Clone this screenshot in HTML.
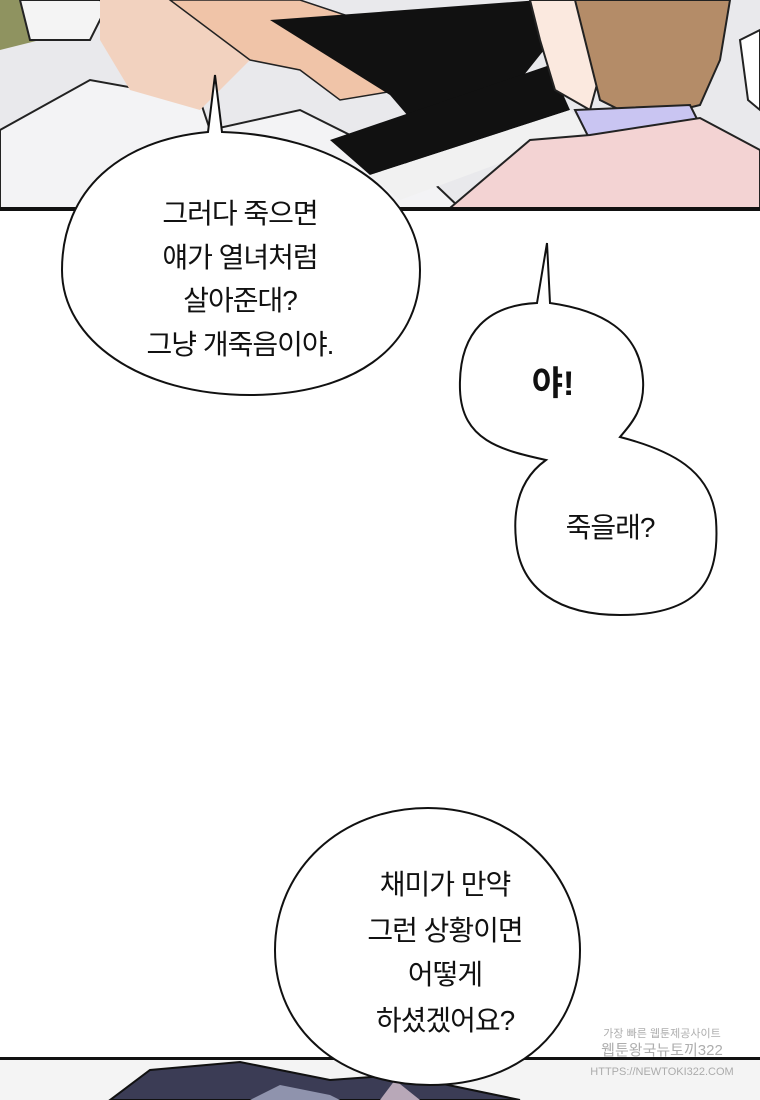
<!DOCTYPE html>
<html><head><meta charset="utf-8"><style>
html,body{margin:0;padding:0;background:#fff;}
svg{display:block}
text{font-family:"Liberation Sans","Noto Sans CJK KR",sans-serif;fill:#111}
</style></head><body>
<svg width="760" height="1100" viewBox="0 0 760 1100" xmlns="http://www.w3.org/2000/svg">
<!-- top panel -->
<rect x="0" y="0" width="760" height="208" fill="#e9e9ec"/>
<polygon points="0,0 60,0 40,40 0,50" fill="#8f9360"/>
<polygon points="20,0 110,0 90,40 30,40" fill="#f4f4f4" stroke="#222" stroke-width="2"/>
<polygon points="100,0 220,0 200,20 120,22" fill="#4a4660" stroke="#111" stroke-width="2"/>
<polygon points="0,130 90,80 200,100 210,130 300,110 420,170 460,208 0,208" fill="#f3f3f5" stroke="#222" stroke-width="2"/>
<polygon points="100,0 260,0 250,60 200,110 130,90 100,40" fill="#f2d2bf"/>
<polygon points="170,0 300,0 390,30 400,90 340,100 300,70 250,60" fill="#f0c4a8" stroke="#222" stroke-width="1.5"/>
<polygon points="270,20 540,0 560,30 520,80 420,130 390,95" fill="#111"/>
<polygon points="330,140 550,65 570,110 370,175" fill="#111"/>
<polygon points="370,175 570,110 590,130 400,200" fill="#f1f1f1"/>
<polygon points="530,0 620,0 590,110 555,90 540,40" fill="#fbe9df" stroke="#222" stroke-width="2"/>
<polygon points="575,0 730,0 720,60 700,105 640,120 600,100" fill="#b48c68" stroke="#222" stroke-width="2"/>
<polygon points="575,110 690,105 700,125 590,140" fill="#c9c5f2" stroke="#222" stroke-width="2"/>
<polygon points="450,208 530,140 590,135 700,118 760,150 760,208" fill="#f3d3d3" stroke="#222" stroke-width="2"/>
<polygon points="740,40 760,30 760,110 748,100" fill="#fff" stroke="#222" stroke-width="2"/>
<rect x="0" y="207" width="760" height="4" fill="#111"/>
<rect x="0" y="211" width="760" height="847" fill="#fff"/>

<!-- bubble 1 -->
<path d="M208,132 L215,75 L222,132 C330,135 420,190 420,270 C420,350 350,395 250,395 C140,395 62,340 62,270 C62,190 120,140 208,132 Z" fill="#fff" stroke="#111" stroke-width="2"/>
<g font-size="28" text-anchor="middle" letter-spacing="-1">
<text x="240" y="223">그러다 죽으면</text>
<text x="240" y="267">얘가 열녀처럼</text>
<text x="240" y="310">살아준대?</text>
<text x="240" y="354">그냥 개죽음이야.</text>
</g>

<!-- bubble 2 -->
<path d="M537,303 L547,243 L550,303 C600,310 640,330 643,380 C645,410 630,425 620,437 C670,450 712,470 716,520 C720,580 700,615 620,615 C560,615 520,590 516,540 C512,500 525,475 546,460 C500,450 462,440 460,390 C458,330 490,305 537,303 Z" fill="#fff" stroke="#111" stroke-width="2"/>
<text x="553" y="395" font-size="34" font-weight="bold" text-anchor="middle">야!</text>
<text x="610" y="537" font-size="28" text-anchor="middle" letter-spacing="-1">죽을래?</text>

<!-- bottom panel -->
<rect x="0" y="1058" width="760" height="42" fill="#f4f4f4"/>
<polygon points="110,1100 150,1070 240,1062 330,1080 400,1075 520,1100" fill="#3b3c55" stroke="#111" stroke-width="2"/>
<polygon points="250,1100 280,1085 330,1095 340,1100" fill="#8f93ad"/>
<polygon points="380,1100 395,1080 420,1100" fill="#b8a8b8"/>
<rect x="0" y="1057" width="760" height="3" fill="#111"/>

<!-- bubble 3 -->
<path d="M428,808 C520,808 580,880 580,950 C580,1030 520,1085 430,1085 C340,1085 275,1030 275,950 C275,870 340,808 428,808 Z" fill="#fff" stroke="#111" stroke-width="2"/>
<g font-size="28" text-anchor="middle" letter-spacing="-1">
<text x="445" y="894">채미가 만약</text>
<text x="445" y="940">그런 상황이면</text>
<text x="445" y="984">어떻게</text>
<text x="445" y="1030">하셨겠어요?</text>
</g>
<g font-size="11" text-anchor="middle" opacity="0.8">
<text x="662" y="1037" style="fill:#999">가장 빠른 웹툰제공사이트</text>
<text x="662" y="1055" font-size="15" style="fill:#999">웹툰왕국뉴토끼322</text>
<text x="662" y="1075" style="fill:#999">HTTPS://NEWTOKI322.COM</text>
</g>
</svg>
</body></html>
